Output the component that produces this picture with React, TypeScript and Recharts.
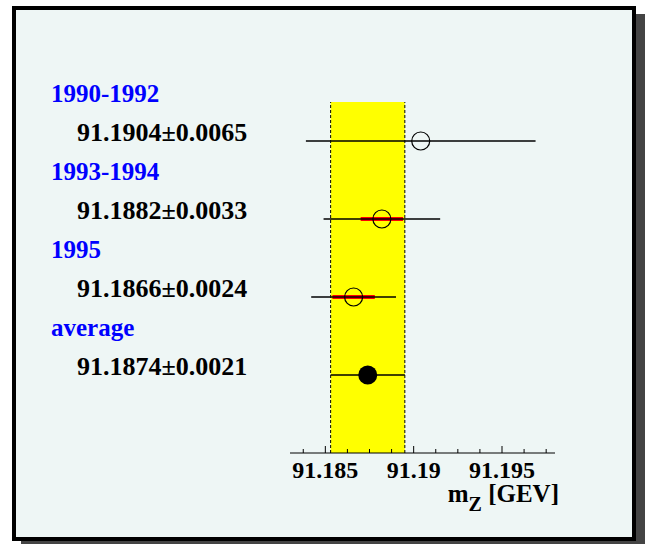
import { ComposedChart, Scatter, ErrorBar, XAxis, YAxis, ReferenceArea, ReferenceLine } from "recharts";

const periods = ["1990-1992", "1993-1994", "1995", "average"];
const masses = [91.1904, 91.1882, 91.1866, 91.1874];
const errors = [0.0065, 0.0033, 0.0024, 0.0021];
// red inner bars (only the two later periods have them)
const innerErrors = [0, 0.0012, 0.0012, 0];
const rows = [4, 3, 2, 1];
const majorTicks = [91.185, 91.19, 91.195];
const minorTicks = [
  91.18375, 91.185, 91.18625, 91.1875, 91.18875, 91.19, 91.19125, 91.1925, 91.19375, 91.195, 91.19625, 91.1975,
];

const FONT = "'Liberation Serif', 'Times New Roman', serif";

const points = periods.map((p, i) => ({
  period: p,
  mass: masses[i],
  row: rows[i],
  err: errors[i],
  inner: innerErrors[i],
}));
const measurements = points.slice(0, 3);
const average = points.slice(3);
const withInner = points.filter((p) => p.inner > 0);

const avgLow = masses[3] - errors[3];
const avgHigh = masses[3] + errors[3];

const OpenCircle = (props: any) => (
  <circle cx={props.cx} cy={props.cy} r={9} fill="none" stroke="#000" strokeWidth={1.2} />
);
const FilledCircle = (props: any) => <circle cx={props.cx} cy={props.cy} r={9.5} fill="#000" />;
const NoShape = () => null;

const XTick = (props: any) => {
  const { x, y, payload } = props;
  const major = majorTicks.some((t) => Math.abs(t - payload.value) < 1e-7);
  return (
    <g>
      <line x1={x} y1={y} x2={x} y2={y - (major ? 7 : 4)} stroke="#000" strokeWidth={1} />
      {major && (
        <text x={x} y={y + 25} textAnchor="middle" fontFamily={FONT} fontWeight="bold" fontSize={24} fill="#000">
          {payload.value}
        </text>
      )}
    </g>
  );
};

const YTick = (props: any) => {
  const { y, payload } = props;
  const i = rows.indexOf(payload.value);
  if (i < 0) return null;
  return (
    <g fontFamily={FONT} fontWeight="bold">
      <text x={51} y={y - 39} fontSize={25} fill="#0000ff">
        {periods[i]}
      </text>
      <text x={77} y={y} fontSize={26} fill="#000">
        {masses[i].toFixed(4)}±{errors[i].toFixed(4)}
      </text>
    </g>
  );
};

const AxisTitle = (props: any) => {
  const { viewBox } = props;
  const right = viewBox.x + viewBox.width + 4;
  return (
    <text x={right} y={viewBox.y + 49} textAnchor="end" fontFamily={FONT} fontWeight="bold" fontSize={25} fill="#000">
      m
      <tspan fontSize={20} dy={9}>
        Z
      </tspan>
      <tspan dy={-9}> [GEV]</tspan>
    </text>
  );
};

export default function App() {
  return (
    <div style={{ position: "absolute", left: 0, top: 0, width: 645, height: 544, background: "#fff" }}>
      <div
        style={{
          position: "absolute",
          left: 12,
          top: 6,
          width: 624,
          height: 535,
          boxSizing: "border-box",
          border: "4px solid #000",
          background: "#eef6f5",
          boxShadow: "9px 8px 0 #444",
        }}
      />
      <div style={{ position: "absolute", left: 0, top: 0 }}>
        <ComposedChart width={645} height={544} margin={{ top: 102, right: 90, bottom: 0, left: 0 }}>
          <XAxis
            type="number"
            dataKey="mass"
            domain={[91.183, 91.198]}
            allowDataOverflow
            ticks={minorTicks}
            interval={0}
            tick={<XTick />}
            tickLine={false}
            tickSize={0}
            tickMargin={0}
            axisLine={{ stroke: "#000", strokeWidth: 1 }}
            height={91}
            label={<AxisTitle />}
          />
          <YAxis
            type="number"
            dataKey="row"
            domain={[0, 4.5]}
            allowDataOverflow
            ticks={rows}
            interval={0}
            width={290}
            axisLine={false}
            tickLine={false}
            tick={<YTick />}
          />
          <ReferenceArea x1={avgLow} x2={avgHigh} fill="#ffff00" fillOpacity={1} stroke="none" />
          <ReferenceLine x={avgLow} stroke="#000" strokeDasharray="3 2" />
          <ReferenceLine x={avgHigh} stroke="#000" strokeDasharray="3 2" />
          <Scatter data={withInner} shape={<NoShape />} isAnimationActive={false}>
            <ErrorBar dataKey="inner" direction="x" width={0} stroke="#ff0000" strokeWidth={4} isAnimationActive={false} />
          </Scatter>
          <Scatter data={measurements} shape={<OpenCircle />} isAnimationActive={false}>
            <ErrorBar dataKey="err" direction="x" width={0} stroke="#000" strokeWidth={1.5} isAnimationActive={false} />
          </Scatter>
          <Scatter data={average} shape={<FilledCircle />} isAnimationActive={false}>
            <ErrorBar dataKey="err" direction="x" width={0} stroke="#000" strokeWidth={1.5} isAnimationActive={false} />
          </Scatter>
        </ComposedChart>
      </div>
    </div>
  );
}
